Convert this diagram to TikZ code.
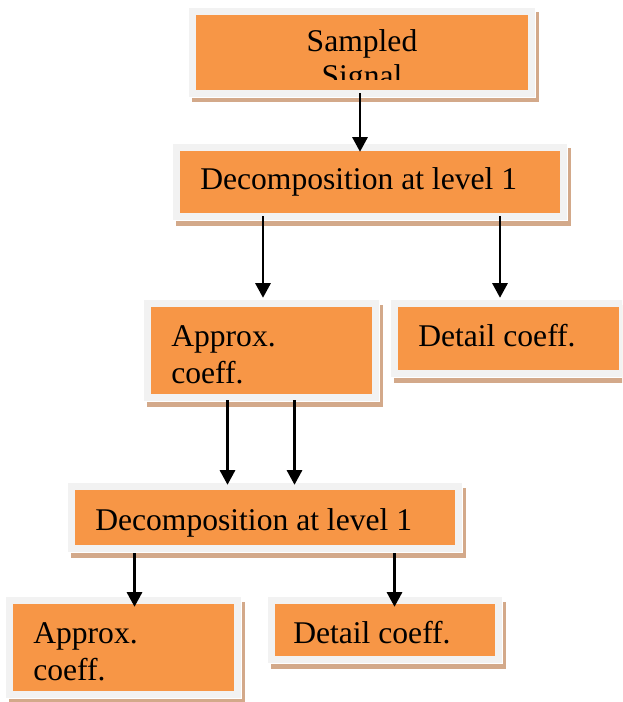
\documentclass[tikz,border=0pt]{standalone}
\usepackage{fontspec}
\setmainfont{Liberation Serif}
\usetikzlibrary{arrows.meta,fit}
\definecolor{boxorange}{HTML}{F79646}
\definecolor{boxframe}{HTML}{F2F2F2}
\definecolor{boxshadow}{HTML}{D3A98A}
\tikzset{
  orangebox/.style={fill=boxorange, inner sep=0pt, draw=none},
  lbl/.style={font=\fontsize{23.7pt}{27pt}\selectfont, inner sep=0pt, anchor=base west, text=black},
  lblc/.style={lbl, anchor=base},
  arr/.style={line width=1.65pt, -{Triangle[length=11pt,width=11.5pt]}},
}
% name, x1, y1, x2, y2 of the orange rectangle (px, y downwards)
\newcommand\framedbox[5]{%
  \fill[boxshadow] (#2-7.5+3,#3-7.5+5) rectangle (#4+7.5+3,#5+7.5+5);
  \filldraw[fill=boxframe, draw=white, line width=0.75pt] (#2-7.5,#3-7.5) rectangle (#4+7.5,#5+7.5);
  \node[orangebox, fit={(#2,#3) (#4,#5)}] (#1) {};
}
\begin{document}
\begin{tikzpicture}[x=0.75pt, y=-0.75pt]
\clip (0,0) rectangle (622,702);
\fill[white] (0,0) rectangle (622,702);

% boxes
\framedbox{sam}{196}{15}{528}{90}
\framedbox{decA}{180}{151}{560}{213}
\framedbox{appA}{151}{307}{372}{394}
\framedbox{detA}{398}{307}{619}{370}
\framedbox{decB}{75}{490}{455}{545}
\framedbox{appB}{13}{604}{234}{691}
\framedbox{detB}{275}{604}{495}{656}

% texts
\begin{scope}
  \clip (196,15) rectangle (528,80);
  \node[lblc] (samT1) at (362,52) {Sampled};
  \node[lblc] (samT2) at (362,87) {Signal};
\end{scope}
\node[lbl] (decAT) at (200,190) {Decomposition at level 1};
\node[lbl] (appAT1) at (171,346) {Approx.};
\node[lbl] (appAT2) at (171,383) {coeff.};
\node[lbl] (detAT) at (418,346) {Detail coeff.};
\node[lbl] (decBT) at (95,530) {Decomposition at level 1};
\node[lbl] (appBT1) at (33,643) {Approx.};
\node[lbl] (appBT2) at (33,680) {coeff.};
\node[lbl] (detBT) at (293,643) {Detail coeff.};

% arrows
\draw[arr, shorten <=2.25pt, shorten >=-0.75pt] (360,0 |- sam.south) -- (360,0 |- decA.north);
\draw[arr, shorten <=2.25pt, shorten >=6.75pt] (263,0 |- decA.south) -- (263,0 |- appA.north);
\draw[arr, shorten <=2.25pt, shorten >=6.75pt] (500,0 |- decA.south) -- (500,0 |- detA.north);
\draw[arr, shorten <=4.5pt, shorten >=3.75pt] (227.5,0 |- appA.south) -- (227.5,0 |- decB.north);
\draw[arr, shorten <=4.5pt, shorten >=3.75pt] (294.5,0 |- appA.south) -- (294.5,0 |- decB.north);
\draw[arr, shorten <=6pt, shorten >=-2.25pt] (134.5,0 |- decB.south) -- (134.5,0 |- appB.north);
\draw[arr, shorten <=6pt, shorten >=-2.25pt] (394.5,0 |- decB.south) -- (394.5,0 |- detB.north);
\end{tikzpicture}
\end{document}
